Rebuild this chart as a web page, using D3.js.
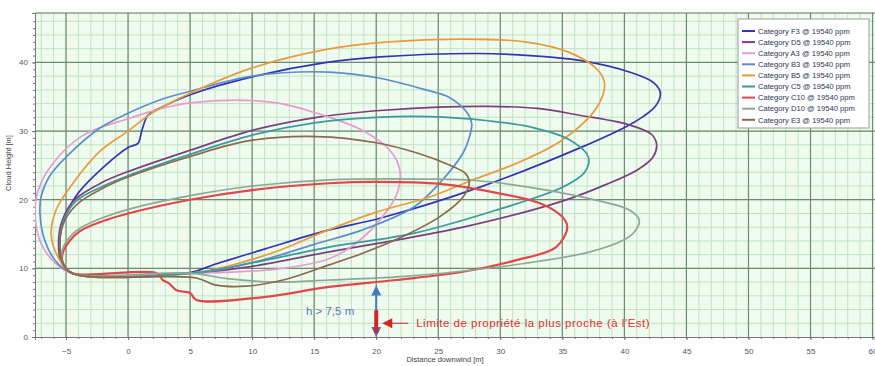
<!DOCTYPE html>
<html>
<head>
<meta charset="utf-8">
<script src="https://cdn.jsdelivr.net/npm/d3@7"></script>
<style>
  body { margin: 0; background: #fff; }
  svg { display: block; font-family: "Liberation Sans", Arial, sans-serif; }
  .tick text { fill: #555; font-size: 8px; }
</style>
</head>
<body>
<svg id="chart" width="875" height="366"></svg>
<script>
// series names and line colours
const categories = ['F3', 'D5', 'A3', 'B3', 'B5', 'C5', 'C10', 'D10', 'E3'];
const colors = ['#3434b4', '#7b3f7f', '#e79bd0', '#5b8fc9', '#e89a3c', '#3a9aa0', '#e04848', '#8ca897', '#8a6a4a'];

const xTicks = [-5, 0, 5, 10, 15, 20, 25, 30, 35, 40, 45, 50, 55, 60];
const yTicks = [0, 10, 20, 30, 40];

// cloud contours [distance downwind, height]
const F3 = [[-4.5, 9.3], [-5.3, 11], [-5.5, 14], [-5.1, 17.5], [-4, 21], [-2, 24.7], [0, 27.6], [0.8, 28.2],
  [1.1, 30], [1.6, 32.3], [2.5, 33.3], [5, 35.3], [10, 37.9], [16, 40], [20.3, 40.8], [28, 41.3], [32.4, 41],
  [36.4, 40.3], [40.4, 38.6], [42.4, 37], [42.9, 35.5], [42.5, 33.6], [41.5, 32.1], [40.4, 30.9], [36.6, 27.7],
  [28.3, 21.8], [20.3, 17.3], [16.2, 15.6], [11, 12.8], [7, 10.6], [5, 9.4]];
const D5 = [[-4.5, 9.3], [-5.4, 11], [-5.6, 14], [-5.3, 17], [-4.3, 20], [-2, 22.6], [0, 24.1], [5, 27.2],
  [10, 30.1], [15.2, 32], [20.3, 33], [25, 33.5], [29, 33.6], [33, 33.3], [36.4, 32.3], [40.4, 30.9],
  [42.2, 29.5], [42.6, 28], [42.3, 26.2], [41, 24.3], [38.5, 22.2], [35, 19.8], [27, 16], [20, 13.6],
  [16.2, 12.4], [10, 10.3], [5, 9.3]];
const A3 = [[-4.5, 9.3], [-6, 11], [-7.1, 14], [-7.5, 18], [-7.3, 21], [-6.3, 24.7], [-3.7, 29.3], [0, 31.8],
  [2.5, 33.2], [5, 34.1], [8.7, 34.5], [12, 34.1], [15.2, 32.6], [18.9, 30.1], [21.1, 27.2], [21.9, 24.3],
  [21.7, 21], [20.5, 17.5], [18.4, 13.7], [16.2, 11.4], [12, 9.9], [5, 9.3]];
const B3 = [[-4.5, 9.3], [-5.8, 11], [-6.7, 14], [-7.1, 18], [-7, 20.5], [-6.3, 23.5], [-5, 26.2], [-2.3, 30.4],
  [0, 32.6], [2.5, 34.5], [5, 35.8], [10, 38], [16.2, 38.6], [20.3, 37.7], [24, 36], [25.9, 34.9], [27.4, 32.5],
  [27.7, 31], [27.4, 28.5], [27, 26.8], [25.1, 22.4], [23, 18.9], [18.9, 15.6], [15, 13.5], [10.8, 11.2], [5.5, 9.3]];
const B5 = [[-4.5, 9.3], [-5.6, 11.5], [-6.2, 15], [-5.8, 18.5], [-4.6, 22], [-2.3, 27], [0, 30], [2, 32.7],
  [5, 35.5], [10, 39.2], [16, 41.9], [21, 43], [27, 43.4], [32, 43], [35.5, 41.5], [37.8, 39], [38.4, 37],
  [37.8, 33.5], [35, 28.7], [31.3, 25.3], [27.8, 22.9], [24.3, 20.4], [20, 18.2], [16, 15.5], [12, 12.5],
  [8, 10.3], [5, 9.3]];
const C5 = [[-4.5, 9.3], [-5.3, 11], [-5.5, 14], [-5.2, 17], [-4.2, 19.8], [-2, 22], [0, 23.5], [5, 26.6],
  [10, 29.4], [15, 31.2], [20, 32], [24.3, 32.1], [29, 31.5], [32.4, 30.6], [35.6, 28.7], [37.1, 26.2],
  [36.8, 24], [35, 21.8], [29.7, 18.5], [23, 15.1], [16.2, 13.1], [10, 10.8], [5, 9.3]];
const C10 = [[-4.5, 9.3], [-5.2, 10.5], [-5.3, 12], [-4.8, 13.8], [-3.9, 15.4], [-2, 16.9], [0, 18], [5, 20],
  [10, 21.4], [16.2, 22.4], [20, 22.6], [25.1, 22.3], [29.7, 21], [33.2, 19.5], [35, 17.5], [35.4, 16],
  [34.5, 13.1], [31.3, 11.2], [27, 9.5], [21.6, 8.3], [16.2, 7.3], [10.9, 5.8], [5.5, 5.4], [5, 6.4],
  [3.9, 6.8], [3.3, 7.8], [2.8, 8.3], [2.3, 9.3]];
const D10 = [[-4.5, 9.3], [-5.2, 10.6], [-5.35, 12.3], [-4.9, 14.1], [-3.9, 15.8], [-2, 17.4], [0, 18.6],
  [5, 20.6], [10, 22], [16.2, 22.9], [24.3, 23], [28, 22.8], [32.4, 21.8], [37.8, 19.9], [40.4, 18.5],
  [41.2, 17], [40.8, 15.3], [39.9, 14.1], [37, 12.3], [33, 11], [28, 9.8], [22, 8.8], [16.2, 8.3],
  [12, 8.0], [8, 8.5], [5, 9.3]];
const E3 = [[-4.5, 9.3], [-5.3, 11], [-5.5, 14], [-5.1, 17], [-4, 19.5], [-2, 21.7], [0, 23.3], [5, 26.3],
  [9.8, 28.6], [15.2, 29.2], [20, 28.3], [23.3, 26.8], [25.7, 25.2], [27.2, 23.8], [27.5, 22.5], [27, 20.4],
  [25.1, 17.5], [22.1, 14.6], [18.9, 12.2], [16.2, 10.5], [12.5, 8.3], [9.5, 7.4], [7, 7.6], [5.5, 8.6]];
const contours = [F3, D5, A3, B3, B5, C5, C10, D10, E3];

// marker: nearest property limit and the 7.5 m height
const limitX = 20;
const limitHeight = 7.5;

const svg = d3.select('#chart');
const margin = { top: 13, left: 35, bottom: 29 };
const W = 880, H = 366;

const x = d3.scaleLinear().domain([-7.5, 60.6]).range([margin.left, W]);
const y = d3.scaleLinear().domain([0, 47.2]).range([H - margin.bottom, margin.top]);

svg.append('defs').append('clipPath').attr('id', 'clip')
  .append('rect').attr('x', x.range()[0]).attr('y', y.range()[1])
  .attr('width', W - margin.left).attr('height', y(0) - y.range()[1]);

// background + grid
svg.append('rect').attr('x', margin.left).attr('y', margin.top)
  .attr('width', W - margin.left).attr('height', y(0) - margin.top).attr('fill', '#effbef');

const grid = svg.append('g');
grid.selectAll('.vminor').data(d3.range(-7, 61, 1)).enter().append('line')
  .attr('x1', d => x(d)).attr('x2', d => x(d)).attr('y1', y(0)).attr('y2', margin.top)
  .attr('stroke', '#bfe3c3').attr('stroke-width', 1);
grid.selectAll('.hminor').data(d3.range(2, 47, 2)).enter().append('line')
  .attr('x1', margin.left).attr('x2', W).attr('y1', d => y(d)).attr('y2', d => y(d))
  .attr('stroke', '#bfe3c3').attr('stroke-width', 1);
grid.selectAll('.vmajor').data(xTicks).enter().append('line')
  .attr('x1', d => x(d)).attr('x2', d => x(d)).attr('y1', y(0)).attr('y2', margin.top)
  .attr('stroke', '#6f8a72').attr('stroke-width', 1.2);
grid.selectAll('.hmajor').data(yTicks.slice(1)).enter().append('line')
  .attr('x1', margin.left).attr('x2', W).attr('y1', d => y(d)).attr('y2', d => y(d))
  .attr('stroke', '#6f8a72').attr('stroke-width', 1.2);
svg.append('line').attr('x1', margin.left).attr('x2', W).attr('y1', margin.top).attr('y2', margin.top)
  .attr('stroke', '#666');

// axes
const gx = svg.append('g').attr('transform', `translate(0,${y(0)})`)
  .call(d3.axisBottom(x).tickValues(xTicks).tickSize(3).tickPadding(8));
svg.append('g').attr('transform', `translate(0,${y(0)})`)
  .call(d3.axisBottom(x).tickValues(d3.range(-7, 61, 1)).tickSize(2).tickFormat(''));
const gy = svg.append('g').attr('transform', `translate(${margin.left},0)`)
  .call(d3.axisLeft(y).tickValues(yTicks).tickSize(3).tickPadding(4));
svg.append('g').attr('transform', `translate(${margin.left},0)`)
  .call(d3.axisLeft(y).tickValues(d3.range(0, 47, 1)).tickSize(2).tickFormat(''));
svg.selectAll('.domain').attr('stroke', '#777');
svg.selectAll('.tick line').attr('stroke', '#777');

svg.append('text').attr('x', 445).attr('y', 362).attr('text-anchor', 'middle')
  .attr('font-size', 7.5).attr('fill', '#444').text('Distance downwind [m]');
svg.append('text').attr('transform', 'translate(11,163) rotate(-90)').attr('text-anchor', 'middle')
  .attr('font-size', 7.5).attr('fill', '#444').text('Cloud Height [m]');

// contours
const line = d3.line().x(d => x(d[0])).y(d => y(d[1])).curve(d3.curveCatmullRomClosed.alpha(0.5));
svg.append('g').attr('clip-path', 'url(#clip)')
  .selectAll('path').data(contours).enter().append('path')
  .attr('d', d => line(d))
  .attr('fill', 'none')
  .attr('stroke', (d, i) => colors[i])
  .attr('stroke-width', (d, i) => categories[i] === 'C10' ? 2.2 : 1.7);

// h > 7.5 m arrow
const ann = svg.append('g');
ann.append('line').attr('x1', x(limitX)).attr('x2', x(limitX))
  .attr('y1', y(limitHeight) + 6).attr('y2', y(0) - 6)
  .attr('stroke', '#4a78c0').attr('stroke-width', 2);
ann.append('path').attr('fill', '#4a78c0')
  .attr('d', `M${x(limitX)},${y(limitHeight)} l-5,10 l10,0 z`);
ann.append('path').attr('fill', '#4a78c0')
  .attr('d', `M${x(limitX)},${y(0)} l-5,-10 l10,0 z`);
ann.append('line').attr('x1', x(limitX)).attr('x2', x(limitX))
  .attr('y1', y(3.9)).attr('y2', y(0.6))
  .attr('stroke', '#d42424').attr('stroke-width', 4);
ann.append('path').attr('fill', '#d42424')
  .attr('d', `M${x(limitX) + 6},${y(2)} l10,-5 l0,10 z`);
ann.append('line').attr('x1', x(limitX) + 14).attr('x2', x(limitX) + 32)
  .attr('y1', y(2)).attr('y2', y(2)).attr('stroke', '#d42424').attr('stroke-width', 1);
ann.append('text').attr('x', x(limitX) + 40).attr('y', y(2) + 4)
  .attr('font-size', 11.5).attr('letter-spacing', 0.5).attr('fill', '#e03030')
  .text('Limite de propriété la plus proche (à l\'Est)');
ann.append('text').attr('x', x(limitX) - 22).attr('y', y(3.2))
  .attr('text-anchor', 'end').attr('font-size', 11.5).attr('fill', '#5a7fb5')
  .text('h > 7,5 m');

// legend
const lg = svg.append('g').attr('transform', 'translate(738,19)');
lg.append('rect').attr('width', 131).attr('height', 109)
  .attr('fill', '#fff').attr('stroke', '#999');
const items = lg.selectAll('.item').data(categories).enter().append('g')
  .attr('transform', (d, i) => `translate(4,${12 + i * 11.1})`);
items.append('line').attr('x1', 0).attr('x2', 13).attr('stroke', (d, i) => colors[i]).attr('stroke-width', 2);
items.append('text').attr('x', 16).attr('y', 2.7).attr('font-size', 7.6).attr('fill', '#2c3550')
  .text(d => `Category ${d} @ 19540 ppm`);
</script>
</body>
</html>
